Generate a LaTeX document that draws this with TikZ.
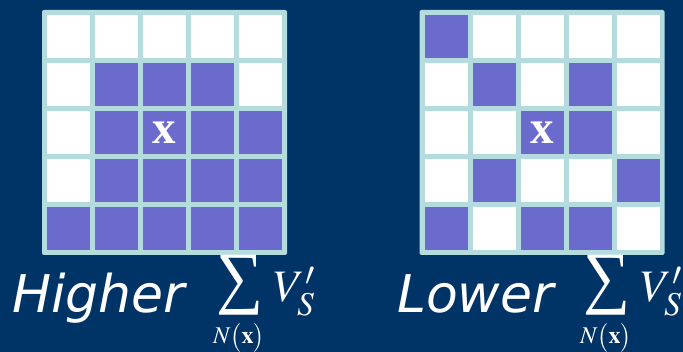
\documentclass[tikz,border=0pt]{standalone}
\usepackage{mathptmx}
\usepackage[no-math]{fontspec}
\usepackage{graphicx}
\newfontfamily\labelfont{DejaVu Sans}
\newfontfamily\timesfont{Liberation Serif}
\definecolor{bg}{RGB}{0,51,102}
\definecolor{cellw}{RGB}{255,255,255}
\definecolor{cellp}{RGB}{107,106,205}
\definecolor{frame}{RGB}{180,220,223}
\tikzset{
  cell/.style={rectangle, inner sep=0pt, minimum size=43pt, draw=none},
  gridframe/.style={fill=frame, rounded corners=2pt},
  word/.style={font=\labelfont\itshape\fontsize{52}{52}\selectfont, text=white, inner sep=0pt, anchor=base west},
  centre/.style={font=\timesfont\bfseries\fontsize{47}{47}\selectfont, text=white, inner sep=0pt},
  mathbig/.style={text=white, inner sep=0pt, font=\fontsize{45}{45}\selectfont, anchor=base west},
  mathsmall/.style={text=white, inner sep=0pt, font=\fontsize{24}{24}\selectfont, anchor=base west},
  sumsign/.style={text=white, inner sep=0pt}
}
\begin{document}
\begin{tikzpicture}[x=1pt,y=1pt]
\fill[bg] (0,0) rectangle (683,352);
\useasboundingbox (0,0) rectangle (683,352);
% left grid
\fill[gridframe] (42,97) rectangle (287,342);
\def\rowsL{{cellw,cellw,cellw,cellw,cellw},{cellw,cellp,cellp,cellp,cellw},{cellw,cellp,cellp,cellp,cellp},{cellw,cellp,cellp,cellp,cellp},{cellp,cellp,cellp,cellp,cellp}}
\foreach \row [count=\r from 0] in \rowsL {
  \foreach \col [count=\c from 0] in \row {
    \node[cell, fill=\col] (L-\r-\c) at ({42+26.5+48*\c},{315.5-48*\r}) {};
  }
}
% right grid
\fill[gridframe] (419.5,97) rectangle (664.5,342);
\def\rowsR{{cellp,cellw,cellw,cellw,cellw},{cellw,cellp,cellw,cellp,cellw},{cellw,cellw,cellp,cellp,cellw},{cellw,cellp,cellw,cellw,cellp},{cellp,cellw,cellp,cellp,cellw}}
\foreach \row [count=\r from 0] in \rowsR {
  \foreach \col [count=\c from 0] in \row {
    \node[cell, fill=\col] (R-\r-\c) at ({419.5+26.5+48*\c},{315.5-48*\r}) {};
  }
}
\node[centre] (xL) at (L-2-2) {x};
\node[centre] (xR) at (R-2-2) {x};
% labels
\node[word] (higher) at (12,39) {Higher};
\node[sumsign] (sumL) at (240,67) {\resizebox*{47pt}{60pt}{\timesfont ∑}};
\node[mathbig] (vL) at (274,50) {$V'_S$};
\node[mathsmall] (nL) at (213,8) {$N\bigl(\mathbf{x}\bigr)$};
\node[word] (lower) at (397,39) {Lower};
\node[sumsign] (sumR) at (607,67) {\resizebox*{47pt}{60pt}{\timesfont ∑}};
\node[mathbig] (vR) at (641,50) {$V'_S$};
\node[mathsmall] (nR) at (580,8) {$N\bigl(\mathbf{x}\bigr)$};
\end{tikzpicture}
\end{document}
